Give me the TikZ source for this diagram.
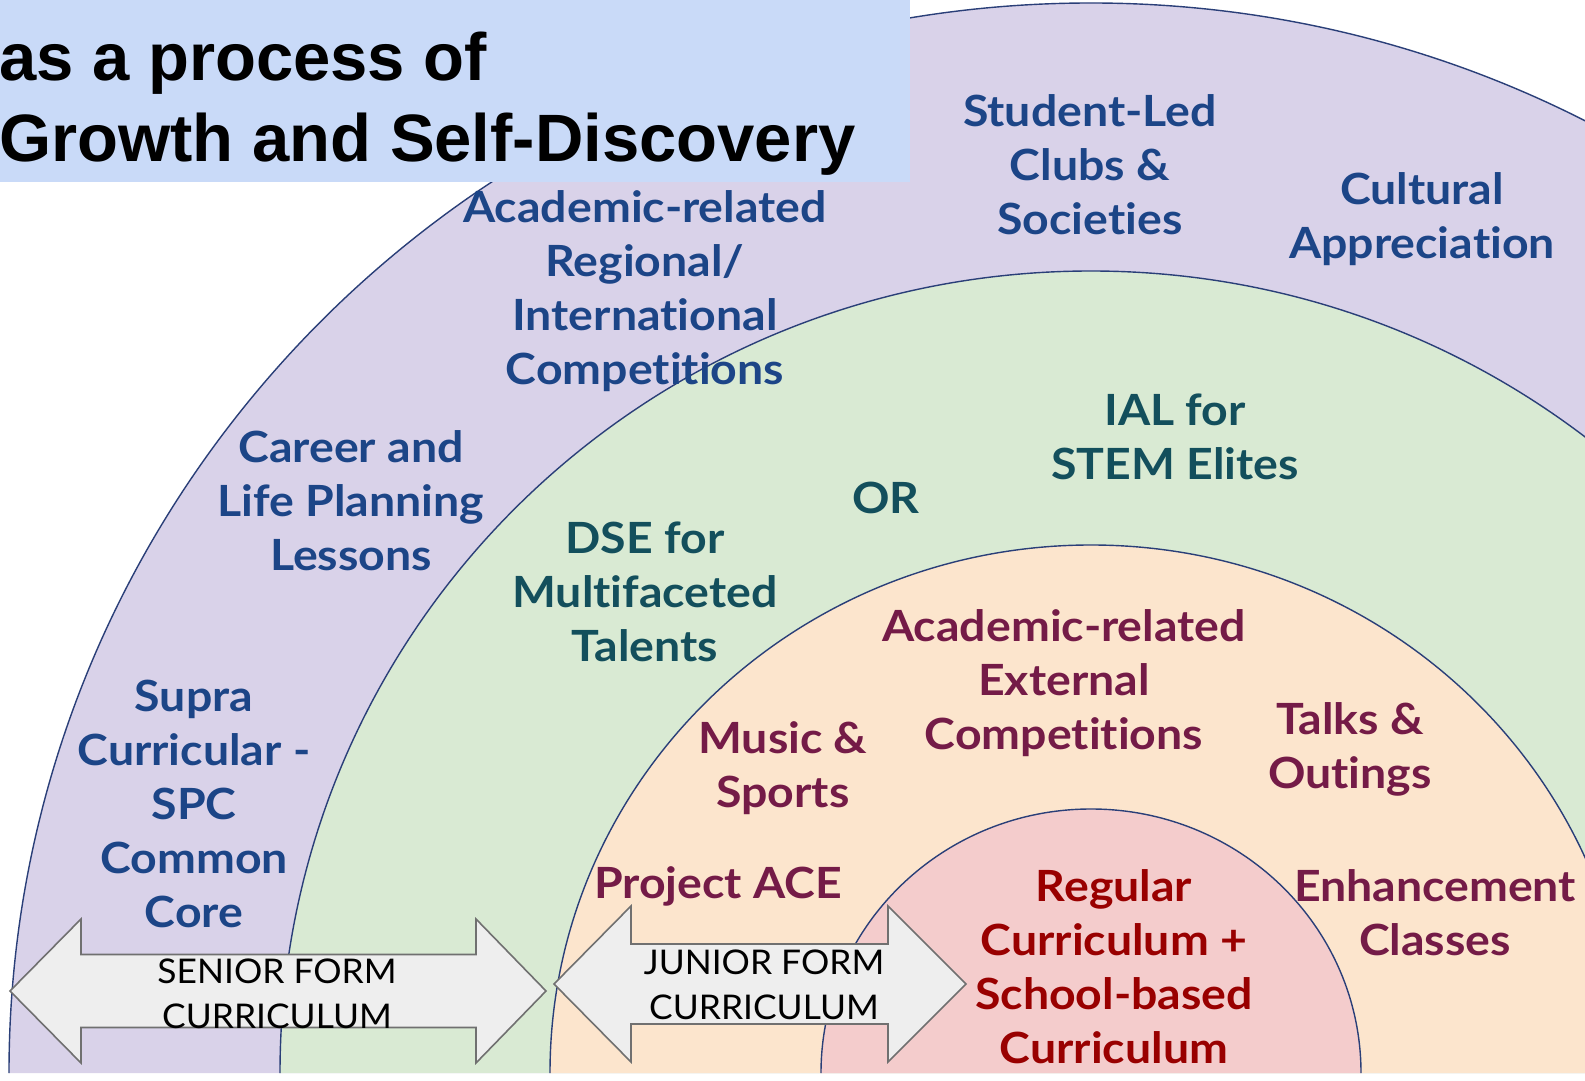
\documentclass[tikz,border=0pt]{standalone}
\usepackage{fontspec}
\setmainfont{Lato}[Ligatures=NoCommon,FakeStretch=1.04,BoldFeatures={FakeStretch=1.08}]
\newfontfamily\titlefont{Liberation Sans}
\usepackage{tikz}
\usetikzlibrary{positioning}
\definecolor{Lilac}{HTML}{D9D2E9}
\definecolor{Sage}{HTML}{D9EAD3}
\definecolor{Peach}{HTML}{FCE5CD}
\definecolor{Rose}{HTML}{F4CCCC}
\definecolor{Sky}{HTML}{C9DAF8}
\definecolor{Navy}{HTML}{2A3F78}
\definecolor{InkBlue}{HTML}{1C4587}
\definecolor{InkTeal}{HTML}{134F5C}
\definecolor{InkPlum}{HTML}{741B47}
\definecolor{InkRed}{HTML}{990000}
\definecolor{ArrowFill}{HTML}{EEEEEE}
\definecolor{ArrowEdge}{HTML}{707070}
\newcommand{\dblarrow}[7]{%
  \draw[fill=ArrowFill,draw=ArrowEdge,line width=1.6pt,line join=miter]
    (#1,#5) -- (#2,#5+#7) -- (#2,#5+#6) -- (#3,#5+#6) -- (#3,#5+#7) -- (#4,#5)
    -- (#3,#5-#7) -- (#3,#5-#6) -- (#2,#5-#6) -- (#2,#5-#7) -- cycle;}

\begin{document}
\begin{tikzpicture}[x=1pt,y=1pt,every node/.style={align=center,inner sep=0pt},
  lbl/.style={font=\fontsize{43}{54}\selectfont\bfseries},
  arrowtext/.style={font=\fontsize{34}{45}\selectfont,text=black}]
  \useasboundingbox (0,0) rectangle (1585,1080);
  \clip (0,0) rectangle (1585,1080);
  \fill[white] (0,0) rectangle (1585,1080);
  \foreach \a/\b/\c in {1082/1070/Lilac,811/802/Sage,541/528/Peach,270/264/Rose}{
    \fill[\c] (1091-\a,7) arc[start angle=180,end angle=0,x radius=\a,y radius=\b] -- cycle;
    \draw[Navy,line width=1.4pt] (1091-\a,7) arc[start angle=180,end angle=0,x radius=\a,y radius=\b];
  }
  \fill[Sky] (0,898) rectangle (910,1080);
  \node[anchor=base west,font=\titlefont\bfseries\fontsize{67}{80}\selectfont] (title1) at (-1,999) {as a process of};
  \node[anchor=base west,font=\titlefont\bfseries\fontsize{67}{80}\selectfont] (title2) at (-1,918) {Growth and Self-Discovery};

  \node[lbl,text=InkBlue] (clubs) at (1090,915) {Student-Led\\Clubs \&\\Societies};
  \node[lbl,text=InkBlue] (culture) at (1422,861) {Cultural\\Appreciation};
  \node[lbl,text=InkBlue] (regional) at (645,789) {Academic-related\\Regional/\\International\\Competitions};
  \node[lbl,text=InkBlue] (career) at (351,579) {Career and\\Life Planning\\Lessons};
  \node[lbl,text=InkBlue] (supra) at (194,276) {Supra\\Curricular -\\SPC\\Common\\Core};

  \node[lbl,text=InkTeal] (ial) at (1175,643) {IAL for\\STEM Elites};
  \node[lbl,text=InkTeal] (or) at (886,582) {OR};
  \node[lbl,text=InkTeal] (dse) at (645,488) {DSE for\\Multifaceted\\Talents};

  \node[lbl,text=InkPlum] (external) at (1064,397) {Academic-related\\External\\Competitions};
  \node[lbl,text=InkPlum] (music) at (783,312) {Music \&\\Sports};
  \node[lbl,text=InkPlum] (talks) at (1350,331) {Talks \&\\Outings};
  \node[lbl,text=InkPlum] (ace) at (718,194) {Project ACE};
  \node[lbl,text=InkPlum] (enhance) at (1435,167) {Enhancement\\Classes};

  \node[lbl,text=InkRed] (regular) at (1114,113) {Regular\\Curriculum +\\School-based\\Curriculum};

  \dblarrow{10}{81}{476}{546}{89}{36.5}{72}
  \dblarrow{554}{631}{888}{966}{96}{40}{78}
  \node[arrowtext] (senior) at (277,86.5) {SENIOR FORM\\CURRICULUM};
  \node[arrowtext] (junior) at (764,95.5) {JUNIOR FORM\\CURRICULUM};
\end{tikzpicture}
\end{document}
